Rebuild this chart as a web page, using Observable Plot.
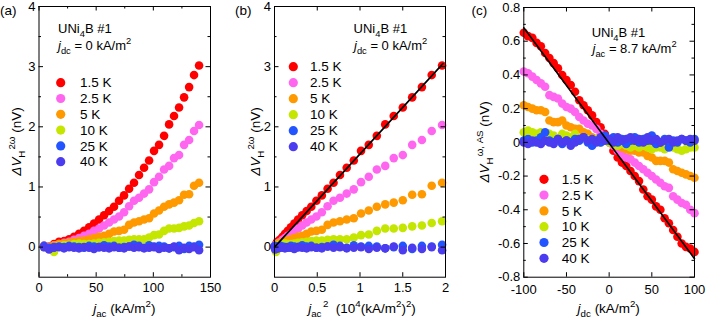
<!DOCTYPE html>
<html><head><meta charset="utf-8">
<script src="https://cdn.jsdelivr.net/npm/d3@7"></script>
<script src="https://cdn.jsdelivr.net/npm/@observablehq/plot@0.6"></script>
<style>
body{margin:0;background:#fff;}
#wrap{position:relative;width:706px;height:324px;overflow:hidden;}
#wrap svg{position:absolute;top:0;overflow:visible;}
</style></head><body><div id="wrap"></div>
<script>
// ---------- data ----------
const temps = ["1.5 K", "2.5 K", "5 K", "10 K", "25 K", "40 K"];
const tempColors = ["#ff0000", "#ff66f0", "#ff9900", "#c4e600", "#2255ff", "#4b3cf0"];

// panels (a) and (b): j_ac (kA/m^2) and second-harmonic Hall voltage (nV)
const jAc = [4.4, 8.8, 13.1, 17.5, 21.9, 26.3, 30.6, 35.0, 39.4, 43.8, 48.1, 52.5, 56.9, 61.3, 65.6, 70.0,
             74.4, 78.8, 83.1, 87.5, 91.9, 96.3, 100.6, 105.0, 109.4, 113.8, 118.1, 122.5, 126.9, 131.3, 135.6, 140.0];
const v2w_1p5K = [0.02, 0.01, 0.05, 0.09, 0.10, 0.13, 0.17, 0.22, 0.27, 0.33, 0.39, 0.46, 0.53, 0.60, 0.67, 0.77,
                  0.86, 0.97, 1.07, 1.20, 1.32, 1.44, 1.60, 1.70, 1.85, 2.04, 2.18, 2.32, 2.49, 2.66, 2.86, 3.02];
const v2w_2p5K = [0.02, 0.01, 0.03, 0.05, 0.07, 0.09, 0.12, 0.15, 0.19, 0.22, 0.27, 0.31, 0.36, 0.41, 0.46, 0.51,
                  0.58, 0.68, 0.77, 0.82, 0.89, 0.96, 1.08, 1.17, 1.29, 1.35, 1.48, 1.53, 1.70, 1.78, 1.93, 2.03];
const v2w_5K   = [0.01, 0.00, 0.03, 0.05, 0.06, 0.07, 0.09, 0.10, 0.11, 0.13, 0.15, 0.17, 0.19, 0.22, 0.26, 0.27,
                  0.29, 0.37, 0.41, 0.43, 0.46, 0.48, 0.56, 0.61, 0.67, 0.71, 0.74, 0.78, 0.87, 0.88, 1.02, 1.07];
const v2w_10K  = [0.00, -0.02, -0.08, 0.02, 0.03, 0.04, 0.05, 0.06, 0.05, 0.05, 0.06, 0.07, 0.08, 0.09, 0.10, 0.11,
                  0.11, 0.12, 0.13, 0.13, 0.13, 0.16, 0.20, 0.21, 0.27, 0.31, 0.31, 0.32, 0.345, 0.36, 0.40, 0.43];
const v2w_25K  = [0.02, -0.01, 0.00, 0.01, 0.00, 0.02, 0.01, 0.00, -0.01, 0.02, 0.01, 0.00, 0.03, 0.01, 0.02, -0.01,
                  0.00, 0.01, 0.04, 0.02, -0.01, 0.03, 0.01, 0.02, 0.01, -0.02, 0.00, 0.02, -0.03, 0.02, 0.01, 0.04];
const v2w_40K  = [0.00, -0.04, -0.01, 0.00, -0.02, 0.00, -0.01, -0.02, 0.00, -0.01, -0.03, 0.00, -0.01, -0.02, 0.00, -0.01,
                  -0.02, 0.01, -0.01, 0.00, -0.02, -0.01, 0.00, -0.03, -0.01, -0.02, 0.01, -0.05, -0.01, -0.03, 0.00, -0.05];
const v2wSeries = [v2w_1p5K, v2w_2p5K, v2w_5K, v2w_10K, v2w_25K, v2w_40K];

// panel (c): j_dc (kA/m^2) and antisymmetric first-harmonic Hall voltage (nV)
const jDc = [-100, -95, -90, -85, -80, -75, -70, -65, -60, -55, -50, -45, -40, -35, -30, -25, -20, -15, -10, -5, 0,
             5, 10, 15, 20, 25, 30, 35, 40, 45, 50, 55, 60, 65, 70, 75, 80, 85, 90, 95, 100];
const vAS_1p5K = [0.65, 0.63, 0.62, 0.59, 0.57, 0.53, 0.50, 0.47, 0.44, 0.40, 0.37, 0.34, 0.30, 0.25, 0.22, 0.19, 0.16, 0.12, 0.09, 0.05, 0.01,
                  -0.05, -0.09, -0.12, -0.14, -0.17, -0.20, -0.23, -0.28, -0.32, -0.34, -0.38, -0.40, -0.45, -0.48, -0.52, -0.56, -0.60, -0.62, -0.63, -0.65];
const vAS_2p5K = [0.42, 0.41, 0.39, 0.37, 0.35, 0.33, 0.28, 0.27, 0.26, 0.23, 0.21, 0.20, 0.18, 0.15, 0.13, 0.11, 0.10, 0.08, 0.05, 0.03, 0.00,
                  -0.02, -0.05, -0.07, -0.09, -0.10, -0.12, -0.14, -0.16, -0.18, -0.20, -0.22, -0.24, -0.26, -0.27, -0.32, -0.34, -0.36, -0.37, -0.40, -0.42];
const vAS_5K   = [0.22, 0.21, 0.20, 0.19, 0.19, 0.18, 0.13, 0.12, 0.12, 0.13, 0.10, 0.09, 0.08, 0.08, 0.06, 0.05, 0.03, 0.02, 0.02, 0.01, 0.00,
                  -0.01, -0.02, -0.03, -0.04, -0.05, -0.05, -0.06, -0.06, -0.08, -0.09, -0.11, -0.11, -0.11, -0.12, -0.16, -0.17, -0.18, -0.19, -0.20, -0.21];
const vAS_10K  = [0.06, 0.07, 0.06, 0.05, 0.06, 0.04, 0.05, 0.04, 0.02, 0.05, 0.04, 0.03, 0.05, 0.02, 0.03, 0.02, 0.01, 0.02, 0.00, 0.01, 0.00,
                  -0.01, -0.02, -0.01, -0.02, -0.03, -0.02, -0.03, -0.02, -0.03, -0.04, -0.03, -0.03, -0.04, -0.02, -0.03, -0.04, -0.05, -0.04, -0.03, -0.03];
const vAS_25K  = [0.01, 0.02, 0.00, 0.01, 0.03, 0.06, 0.01, 0.00, 0.02, -0.01, 0.01, 0.00, 0.02, 0.01, 0.03, 0.00, -0.02, 0.01, 0.00, 0.04, 0.01,
                  0.03, 0.00, 0.02, -0.01, 0.01, 0.03, 0.00, 0.02, 0.01, 0.04, -0.01, 0.00, 0.02, -0.03, 0.01, 0.00, 0.02, 0.01, 0.00, 0.02];
const vAS_40K  = [0.00, -0.01, 0.01, 0.00, -0.01, 0.01, 0.00, -0.01, 0.02, 0.00, 0.01, -0.02, 0.00, 0.02, 0.03, 0.01, 0.02, 0.00, 0.03, 0.01, 0.02,
                  0.00, 0.03, 0.01, 0.02, 0.03, 0.01, 0.02, 0.00, 0.03, 0.01, 0.02, 0.00, 0.01, 0.02, 0.00, 0.01, 0.02, 0.01, 0.02, 0.01];
const vASSeries = [vAS_1p5K, vAS_2p5K, vAS_5K, vAS_10K, vAS_25K, vAS_40K];

// linear fits (black lines)
const fitB_x = [0, 1.97], fitB_y = [0, 3.05];
const fitC_x = [-100, 100], fitC_y = [0.68, -0.69];

// ticks
const aXMajor = [0, 50, 100, 150], aXMinor = [25, 75, 125];
const aYMajor = [0, 1, 2, 3, 4],   aYMinor = [0.5, 1.5, 2.5, 3.5];
const bXMajor = [0, 0.5, 1, 1.5, 2];
const bYMajor = [0, 1, 2, 3, 4],   bYMinor = [0.5, 1.5, 2.5, 3.5];
const cXMajor = [-100, -50, 0, 50, 100];
const cYMajor = [-0.8, -0.6, -0.4, -0.2, 0, 0.2, 0.4, 0.6, 0.8];
const cYMinor = [-0.7, -0.5, -0.3, -0.1, 0.1, 0.3, 0.5, 0.7];

// ---------- build ----------
const FONT = '"Liberation Sans", Arial, Helvetica, sans-serif';
const rowsAB = temps.flatMap((T, i) => jAc.map((j, k) => ({T, j, j2: j * j / 1e4, v: v2wSeries[i][k]})));
const rowsC = temps.flatMap((T, i) => jDc.map((j, k) => ({T, j, v: vASSeries[i][k]})));
const fitB = fitB_x.map((x, i) => ({x, y: fitB_y[i]}));
const fitC = fitC_x.map((x, i) => ({x, y: fitC_y[i]}));
const fmt = d => String(d);

function inward(xs, ys, len, pw, ph) {
  return [
    Plot.tickX(xs, {x: d => d, insetTop: ph - len, stroke: "black"}),
    Plot.tickX(xs, {x: d => d, insetBottom: ph - len, stroke: "black"}),
    Plot.tickY(ys, {y: d => d, insetRight: pw - len, stroke: "black"}),
    Plot.tickY(ys, {y: d => d, insetLeft: pw - len, stroke: "black"})
  ];
}

function panel(o) {
  const pw = o.width - o.ml - o.mr, ph = 324 - o.mt - o.mb;
  const svg = Plot.plot({
    width: o.width, height: 324,
    marginLeft: o.ml, marginRight: o.mr, marginTop: o.mt, marginBottom: o.mb,
    style: {fontFamily: FONT, fontSize: "13px", color: "black", background: "transparent"},
    x: {domain: o.xd}, y: {domain: o.yd},
    color: {domain: temps, range: tempColors},
    marks: [
      ...o.marks,
      Plot.frame({stroke: "black", strokeWidth: 1}),
      ...inward(o.xMaj, o.yMaj, 4.5, pw, ph),
      ...inward(o.xMin || [], o.yMin || [], 2.5, pw, ph),
      Plot.axisX(o.xLab, {tickSize: 0, tickPadding: o.xPad || 6, tickFormat: fmt, label: null, fill: "black"}),
      Plot.axisY(o.yLab, {tickSize: 0, tickPadding: 3.5, tickFormat: fmt, label: null, fill: "black"})
    ]
  });
  svg.style.left = o.left + "px";
  document.getElementById("wrap").appendChild(svg);
  return svg;
}

function rich(svg, x, y, parts, {size = 13, anchor = "start", rotate = false} = {}) {
  const t = d3.select(svg).append("text")
    .attr("x", x).attr("y", y).attr("font-size", size).attr("text-anchor", anchor)
    .attr("font-family", FONT).attr("fill", "black");
  if (rotate) t.attr("transform", `rotate(-90 ${x} ${y})`);
  let cur = 0;
  for (const [s, f = "", dx = 0] of parts) {
    const fl = f.split(" ");
    const sub = fl.includes("sub"), sup = fl.includes("sup");
    const off = sub ? 0.3 * size : sup ? -0.45 * size : 0;
    const ts = t.append("tspan").text(s).attr("dy", off - cur);
    if (dx) ts.attr("dx", dx);
    cur = off;
    if (sub || sup) ts.attr("font-size", size * 0.72);
    if (fl.includes("i")) ts.attr("font-style", "italic");
  }
  return t;
}

function legend(svg, x, y0, step, tx) {
  const g = d3.select(svg).append("g");
  temps.forEach((T, i) => {
    g.append("circle").attr("cx", x).attr("cy", y0 + i * step).attr("r", 4.6).attr("fill", tempColors[i]);
    g.append("text").attr("x", tx).attr("y", y0 + i * step + 4.6).attr("font-size", 13.5)
      .attr("text-anchor", "start")
      .attr("font-family", FONT).attr("fill", "black").text(T);
  });
}

const dotOpts = {r: 4.3, fill: "T", stroke: "none"};

// (a)
const sa = panel({
  left: 0, width: 235, ml: 38.5, mr: 25, mt: 6, mb: 47.3,
  xd: [0, 150], yd: [-0.5, 4],
  xMaj: aXMajor, xMin: aXMinor, yMaj: aYMajor, yMin: aYMinor,
  xLab: aXMajor, yLab: aYMajor,
  marks: [Plot.dot(rowsAB, {x: "j", y: "v", ...dotOpts})]
});
rich(sa, 0, 15, [["(a)"]], {size: 13.5});
rich(sa, 58, 33, [["UNi"], ["4", "sub"], ["B #1"]]);
rich(sa, 58, 50, [["j", "i"], ["dc", "sub"], [" = 0 kA/m"], ["2", "sup"]]);
legend(sa, 60.7, 82.7, 15.8, 80);
rich(sa, 21, 141.5, [["ΔV", "i"], ["H", "sub"], ["2ω", "sup", 1], [" (nV)"]], {anchor: "middle", rotate: true, size: 13.5});
rich(sa, 124.3, 313, [["j", "i"], ["ac", "sub"], [" (kA/m"], ["2", "sup"], [")"]], {anchor: "middle", size: 13.5});

// (b)
const sb = panel({
  left: 235, width: 235, ml: 39, mr: 25, mt: 6, mb: 47.3,
  xd: [0, 2], yd: [-0.5, 4],
  xMaj: bXMajor, yMaj: bYMajor, yMin: bYMinor,
  xLab: bXMajor, yLab: bYMajor,
  marks: [
    Plot.dot(rowsAB, {x: "j2", y: "v", ...dotOpts}),
    Plot.line(fitB, {x: "x", y: "y", stroke: "black", strokeWidth: 1.6})
  ]
});
rich(sb, 0, 15, [["(b)"]], {size: 13.5});
rich(sb, 118.5, 33, [["UNi"], ["4", "sub"], ["B #1"]]);
rich(sb, 119, 50, [["j", "i"], ["dc", "sub"], [" = 0 kA/m"], ["2", "sup"]]);
legend(sb, 58.3, 66.7, 16, 75);
rich(sb, 25, 141.5, [["ΔV", "i"], ["H", "sub"], ["2ω", "sup", 1], [" (nV)"]], {anchor: "middle", rotate: true, size: 13.5});
rich(sb, 127, 313, [["j", "i"], ["ac", "sub"], ["2", "sup", 1.5], ["  (10"], ["4", "sup"], ["(kA/m"], ["2", "sup"], [")"], ["2", "sup"], [")"]], {anchor: "middle", size: 13.5});

// (c)
const sc = panel({
  left: 470, width: 236, ml: 53.3, mr: 12, mt: 7, mb: 47.3, xPad: 7.5,
  xd: [-100, 100], yd: [-0.8, 0.8],
  xMaj: cXMajor, yMaj: cYMajor, yMin: cYMinor,
  xLab: cXMajor, yLab: cYMajor,
  marks: [
    Plot.dot(rowsC, {x: "j", y: "v", ...dotOpts}),
    Plot.line(fitC, {x: "x", y: "y", stroke: "black", strokeWidth: 1.6})
  ]
});
rich(sc, 1.5, 15, [["(c)"]], {size: 13.5});
rich(sc, 121.7, 36.7, [["UNi"], ["4", "sub"], ["B #1"]]);
rich(sc, 122.5, 53.3, [["j", "i"], ["ac", "sub"], [" = 8.7 kA/m"], ["2", "sup"]]);
legend(sc, 74, 179.3, 15.8, 91.7);
rich(sc, 19, 141.8, [["ΔV", "i"], ["H", "sub"], ["ω, AS", "sup", 1], [" (nV)"]], {anchor: "middle", rotate: true, size: 13.5});
rich(sc, 138.7, 313, [["j", "i"], ["dc", "sub"], [" (kA/m"], ["2", "sup"], [")"]], {anchor: "middle", size: 13.5});
</script></body></html>
